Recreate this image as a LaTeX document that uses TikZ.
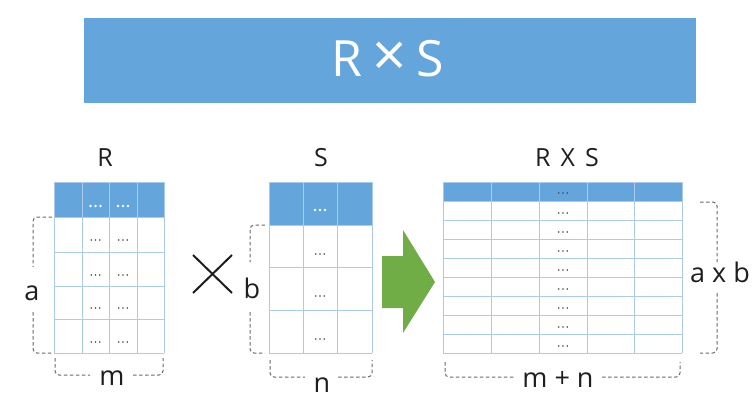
\documentclass[tikz,border=0pt]{standalone}
\usepackage{fontspec}
\setmainfont{Open Sans}
\definecolor{hdr}{RGB}{100,165,219}
\definecolor{gridc}{RGB}{172,203,234}
\definecolor{arrowgreen}{RGB}{112,173,71}
\definecolor{brk}{RGB}{105,105,105}
\definecolor{ink}{RGB}{30,30,30}
\definecolor{dotc}{RGB}{70,70,70}
\tikzset{
  tdots/.pic={\fill (-4.3,0) circle (0.85pt) (0,0) circle (0.85pt) (4.3,0) circle (0.85pt);},
  hdots/.pic={\fill (-5,0) circle (1.3pt) (0,0) circle (1.3pt) (5,0) circle (1.3pt);},
  gridline/.style={draw=gridc, line width=0.8pt},
  bracket/.style={draw=brk, dash pattern=on 3.5pt off 2.5pt, line width=1pt, rounded corners=4pt},
  lbl/.style={text=ink, font=\fontsize{27}{27}\selectfont, anchor=base, inner sep=0pt},
  tlbl/.style={text=ink, font=\fontsize{25}{25}\selectfont, anchor=base, inner sep=0pt},
}
\begin{document}
\begin{tikzpicture}[x=1pt,y=-1pt]
\useasboundingbox (0,0) rectangle (756,412);
% title bar
\node[fill=hdr, minimum width=612pt, minimum height=85pt, inner sep=0pt] (title) at (390,60.5) {};
\node[text=white, font=\fontsize{50}{50}\selectfont, anchor=base, inner sep=0pt] (titletext) at (388,77) {R\hspace{10pt}{\fontsize{60}{60}\selectfont ×}\hspace{10pt}S};

% ---------- table R ----------
\fill[hdr] (54,182) rectangle (164,217);
\foreach \y in {217,252,286,319,353} \draw[gridline] (54,\y) -- (164,\y);
\foreach \x in {54,82,109,137,164} \draw[gridline] (\x,182) -- (\x,353);
\draw[gridline] (54,182) -- (164,182);
\pic[white] at (95.5,206) {hdots};
\pic[white] at (123,206) {hdots};
\foreach \y in {240,275,308,342} {
  \pic[dotc] at (95.5,\y) {tdots};
  \pic[dotc] at (123,\y) {tdots};
}
\node[tlbl] (rlabel) at (105,167) {R};
\draw[bracket] (52,217) -| (33,267);
\draw[bracket] (33,312) |- (52,353);
\node[lbl] (alabel) at (32,300) {a};
\draw[bracket] (55,358) |- (90,375);
\draw[bracket] (133,375) -| (163,358);
\node[lbl] (mlabel) at (112,385) {m};

% cross
\coordinate (c1) at (193,255); \coordinate (c2) at (232,293);
\coordinate (c3) at (232,255); \coordinate (c4) at (193,293);
\draw[ink, line width=2pt] (c1) -- (c2) (c3) -- (c4);

% ---------- table S ----------
\fill[hdr] (269,182) rectangle (372,225);
\foreach \y in {182,225,267,310,353} \draw[gridline] (269,\y) -- (372,\y);
\foreach \x in {269,303,337,372} \draw[gridline] (\x,182) -- (\x,353);
\pic[white] at (320,210) {hdots};
\foreach \y in {254,296,339} \pic[dotc] at (320,\y) {tdots};
\node[tlbl] (slabel) at (321,167) {S};
\draw[bracket] (265,225) -| (250,262);
\draw[bracket] (250,312) |- (265,353);
\node[lbl] (blabel) at (252,298) {b};
\draw[bracket] (270,360) |- (305,377);
\draw[bracket] (338,377) -| (372,360);
\node[lbl] (nlabel) at (322,392) {n};

% arrow
\fill[arrowgreen] (382,256) -- (403,256) -- (403,230) -- (435,282) -- (403,333) -- (403,308) -- (382,308) -- cycle;

% ---------- table R x S ----------
\fill[hdr] (443,182) rectangle (682,201);
\foreach \y in {182,201,220,239,258,277,296,315,334,353} \draw[gridline] (443,\y) -- (682,\y);
\foreach \x in {443,491,539,587,634,682} \draw[gridline] (\x,182) -- (\x,353);
\pic[dotc] at (563,193) {tdots};
\foreach \y in {201,220,239,258,277,296,315,334} \pic[dotc] at (563,\y+12) {tdots};
\node[tlbl] (rslabel) at (567,166) {R\hspace{10pt}X\hspace{10pt}S};
\draw[bracket] (700,202) -| (717,262);
\draw[bracket] (717,293) |- (700,353);
\node[lbl] (ablabel) at (720,282) {a x b};
\draw[bracket] (445,362) |- (515,377);
\draw[bracket] (602,377) -| (680,362);
\node[lbl] (mnlabel) at (558,387) {m + n};
\end{tikzpicture}
\end{document}
